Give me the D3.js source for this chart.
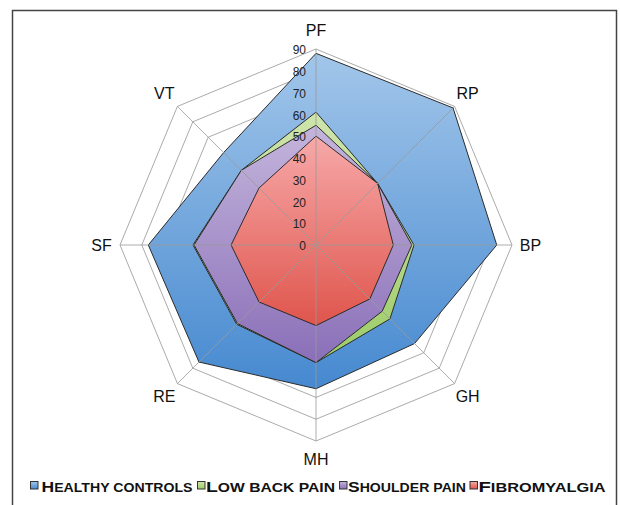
<!DOCTYPE html>
<html>
<head>
<meta charset="utf-8">
<script src="https://cdn.jsdelivr.net/npm/d3@7"></script>
<style>
  body { margin: 0; background: #fff; }
  svg { display: block; font-family: "Liberation Sans", Arial, sans-serif; }
</style>
</head>
<body>
<div id="chart"></div>
<script>
// SF-36 domains, clockwise from top
var axes = ["PF", "RP", "BP", "GH", "MH", "RE", "SF", "VT"];
var healthy  = [88, 89, 83, 64, 66, 76, 77, 60];
var lowBack  = [61, 40, 45, 48, 54, 51.5, 56.5, 48.5];
var shoulder = [55, 40, 44, 43, 54, 51, 56, 48.5];
var fibro    = [50, 40, 35.5, 35, 37, 37, 39, 37];
var tickVals = [0, 10, 20, 30, 40, 50, 60, 70, 80, 90];
var seriesNames = ["Healthy controls", "Low back pain", "Shoulder pain", "Fibromyalgia"];

var width = 620, height = 505,
    cx = 316, cy = 245, R = 196;

var svg = d3.select("#chart").append("svg")
    .attr("width", width)
    .attr("height", height);

// frame
svg.append("rect")
    .attr("x", 12.5).attr("y", 10.5)
    .attr("width", 604).attr("height", 510)
    .attr("fill", "#fff")
    .attr("stroke", "#444")
    .attr("stroke-width", 1.5);

var r = d3.scaleLinear().domain([0, 90]).range([0, R]);
var angle = d3.scalePoint().domain(axes).range([0, 2 * Math.PI * 7 / 8]);

var defs = svg.append("defs");
var grads = [
    {id: "gBlue",   top: "#a2c6ea", bot: "#4689d0"},
    {id: "gGreen",  top: "#cfe5ac", bot: "#9ccc68"},
    {id: "gPurple", top: "#c4b5dc", bot: "#8a6fb8"},
    {id: "gRed",    top: "#f7a9a9", bot: "#df554c"}
];
grads.forEach(function(gd) {
    var lg = defs.append("linearGradient").attr("id", gd.id)
        .attr("x1", 0).attr("y1", 0).attr("x2", 0).attr("y2", 1);
    lg.append("stop").attr("offset", "0%").attr("stop-color", gd.top);
    lg.append("stop").attr("offset", "100%").attr("stop-color", gd.bot);
});

var g = svg.append("g")
    .attr("transform", "translate(" + cx + "," + cy + ")");

function pt(a, v) {
    var t = angle(a);
    return [Math.sin(t) * r(v), -Math.cos(t) * r(v)];
}

// rings
g.selectAll(".ring")
    .data(tickVals.slice(1))
  .enter().append("polygon")
    .attr("class", "ring")
    .attr("points", function(v) {
        return axes.map(function(a) { return pt(a, v).join(","); }).join(" ");
    })
    .attr("fill", "none")
    .attr("stroke", "#ababab")
    .attr("stroke-width", 1);

// areas
var line = d3.lineRadial()
    .angle(function(d, i) { return angle(axes[i]); })
    .radius(function(d) { return r(d); })
    .curve(d3.curveLinearClosed);

var series = [healthy, lowBack, shoulder, fibro];
g.selectAll(".area")
    .data(series)
  .enter().append("path")
    .attr("class", "area")
    .attr("d", line)
    .attr("fill", function(d, i) { return "url(#" + grads[i].id + ")"; })
    .attr("stroke", "#2b2b2b")
    .attr("stroke-width", 1)
    .attr("stroke-linejoin", "miter");

// spokes
g.selectAll(".spoke")
    .data(axes)
  .enter().append("line")
    .attr("class", "spoke")
    .attr("x1", 0).attr("y1", 0)
    .attr("x2", function(a) { return pt(a, 90)[0]; })
    .attr("y2", function(a) { return pt(a, 90)[1]; })
    .attr("stroke", "#9a9a9a")
    .attr("stroke-opacity", 0.8)
    .attr("stroke-width", 1);

// tick labels
g.selectAll(".tick")
    .data(tickVals)
  .enter().append("text")
    .attr("class", "tick")
    .attr("x", -10)
    .attr("y", function(v) { return -r(v) + 1; })
    .attr("dy", "0.35em")
    .attr("text-anchor", "end")
    .attr("font-size", 12)
    .attr("fill", "#222")
    .text(function(v) { return v; });

// axis labels
g.selectAll(".axlab")
    .data(axes)
  .enter().append("text")
    .attr("class", "axlab")
    .attr("x", function(a) { return pt(a, 98.5)[0]; })
    .attr("y", function(a) { return pt(a, 98.5)[1]; })
    .attr("dy", "0.35em")
    .attr("text-anchor", "middle")
    .attr("font-size", 16)
    .attr("fill", "#111")
    .text(function(a) { return a; });

// legend, hand-made small caps
var markerX = [30, 197, 339, 469.5];
var textX = [41.5, 206, 348, 478.5];
var textW = [151, 129, 118, 127];
var legend = svg.append("g").attr("class", "legend");
seriesNames.forEach(function(name, i) {
    legend.append("rect")
        .attr("x", markerX[i] + 0.5).attr("y", 481.5)
        .attr("width", 7.5).attr("height", 7.5)
        .attr("fill", "url(#" + grads[i].id + ")")
        .attr("stroke", "#333")
        .attr("stroke-width", 1);
    var t = legend.append("text")
        .attr("x", textX[i])
        .attr("y", 491.5)
        .attr("font-weight", "bold")
        .attr("fill", "#111")
        .attr("textLength", textW[i])
        .attr("lengthAdjust", "spacingAndGlyphs");
    name.split("").forEach(function(ch) {
        var big = ch !== " " && ch === ch.toUpperCase();
        t.append("tspan")
            .attr("font-size", big ? 15.5 : 12.5)
            .text(ch.toUpperCase());
    });
});
</script>
</body>
</html>
